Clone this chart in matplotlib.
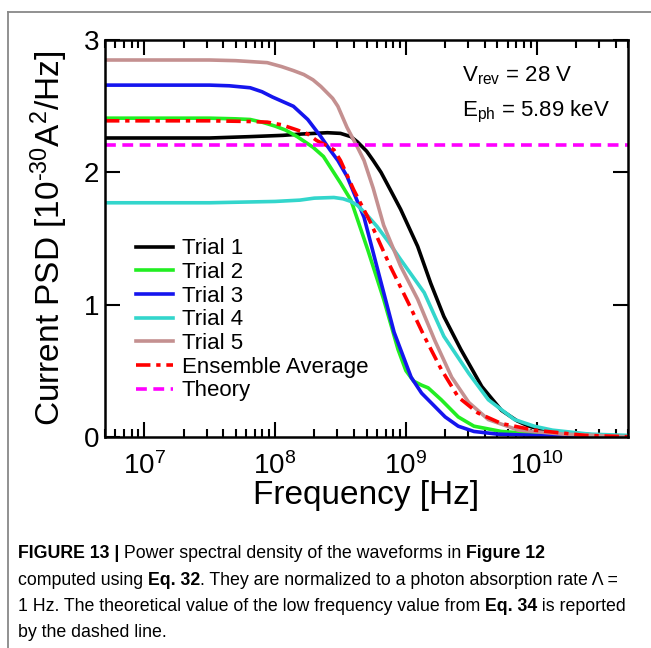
import numpy as np
import matplotlib
matplotlib.use('Agg')
import matplotlib.pyplot as plt
from matplotlib.ticker import LogLocator, NullFormatter, FixedLocator
from matplotlib.lines import Line2D

plt.rcParams['font.family'] = ['Liberation Sans', 'DejaVu Sans']
plt.rcParams['mathtext.fontset'] = 'custom'
plt.rcParams['mathtext.rm'] = 'Liberation Sans'
plt.rcParams['mathtext.it'] = 'Liberation Sans'
plt.rcParams['mathtext.default'] = 'regular'

# log10(frequency) / PSD values
t1_logf = [6.7, 7.5, 7.8, 8.06, 8.2, 8.4, 8.5, 8.58, 8.63, 8.7, 8.75, 8.81, 8.88, 8.96, 9.09, 9.19, 9.29, 9.42, 9.58, 9.73, 9.85, 9.94, 10.05, 10.25, 10.45, 10.7]
t1_psd = [2.26, 2.26, 2.27, 2.28, 2.29, 2.30, 2.295, 2.27, 2.23, 2.16, 2.09, 2.0, 1.87, 1.72, 1.44, 1.16, 0.91, 0.66, 0.38, 0.20, 0.12, 0.08, 0.05, 0.03, 0.012, 0.0]

t2_logf = [6.7, 7.5, 7.7, 7.81, 7.9, 8.0, 8.08, 8.17, 8.29, 8.37, 8.5, 8.58, 8.71, 8.83, 8.94, 9.0, 9.06, 9.12, 9.17, 9.27, 9.4, 9.52, 9.73, 10.0, 10.35, 10.7]
t2_psd = [2.41, 2.41, 2.405, 2.40, 2.38, 2.35, 2.32, 2.27, 2.19, 2.12, 1.92, 1.79, 1.41, 1.04, 0.66, 0.50, 0.42, 0.39, 0.37, 0.28, 0.15, 0.08, 0.04, 0.02, 0.01, 0.0]

t3_logf = [6.7, 7.5, 7.65, 7.81, 7.9, 7.98, 8.14, 8.25, 8.35, 8.42, 8.48, 8.55, 8.68, 8.78, 8.91, 9.04, 9.12, 9.22, 9.3, 9.4, 9.52, 9.7, 10.0, 10.7]
t3_psd = [2.66, 2.66, 2.655, 2.64, 2.61, 2.57, 2.50, 2.40, 2.27, 2.17, 2.09, 1.97, 1.66, 1.28, 0.79, 0.45, 0.33, 0.23, 0.15, 0.08, 0.04, 0.02, 0.01, 0.0]

t4_logf = [6.7, 7.5, 8.0, 8.19, 8.3, 8.45, 8.52, 8.58, 8.63, 8.7, 8.78, 8.87, 8.96, 9.14, 9.29, 9.48, 9.63, 9.83, 9.98, 10.12, 10.4, 10.7]
t4_psd = [1.77, 1.77, 1.78, 1.79, 1.805, 1.81, 1.80, 1.78, 1.75, 1.68, 1.59, 1.47, 1.34, 1.09, 0.76, 0.48, 0.28, 0.13, 0.08, 0.05, 0.02, 0.01]

t5_logf = [6.7, 7.5, 7.7, 7.94, 8.05, 8.14, 8.22, 8.29, 8.35, 8.4, 8.44, 8.48, 8.55, 8.63, 8.68, 8.75, 8.83, 8.96, 9.09, 9.22, 9.35, 9.48, 9.63, 9.86, 10.2, 10.7]
t5_psd = [2.85, 2.85, 2.845, 2.83, 2.80, 2.77, 2.74, 2.70, 2.65, 2.60, 2.56, 2.50, 2.34, 2.19, 2.09, 1.88, 1.60, 1.29, 1.04, 0.73, 0.45, 0.26, 0.13, 0.05, 0.02, 0.0]

avg_logf = [6.7, 7.5, 7.8, 7.94, 8.05, 8.17, 8.25, 8.32, 8.38, 8.45, 8.5, 8.6, 8.73, 8.88, 9.02, 9.14, 9.27, 9.4, 9.55, 9.73, 9.98, 10.37, 10.7]
avg_psd = [2.39, 2.39, 2.385, 2.38, 2.36, 2.32, 2.29, 2.24, 2.21, 2.17, 2.09, 1.87, 1.62, 1.29, 1.01, 0.76, 0.51, 0.30, 0.18, 0.10, 0.05, 0.01, 0.0]

theory_psd = 2.21

series = [
    ('Trial 1', t1_logf, t1_psd, 'black'),
    ('Trial 2', t2_logf, t2_psd, '#22ee22'),
    ('Trial 3', t3_logf, t3_psd, '#1515ee'),
    ('Trial 4', t4_logf, t4_psd, '#33d6cc'),
    ('Trial 5', t5_logf, t5_psd, '#c49090'),
]

fig = plt.figure(figsize=(6.51, 6.48), dpi=100)
ax = fig.add_axes([0.161, 0.326, 0.804, 0.612])

for name, lf, p, c in series:
    ax.plot(10 ** np.array(lf), p, color=c, lw=2.6, label=name)
ax.plot(10 ** np.array(avg_logf), avg_psd, color='red', lw=2.6,
        linestyle=(0, (4, 1.6, 1.2, 1.6)), label='Ensemble Average')
ax.axhline(theory_psd, color='#ff00ff', lw=2.6, linestyle=(0, (3, 1.8)), label='Theory')

ax.set_xscale('log')
ax.set_xlim(5e6, 5e10)
ax.set_ylim(0, 3)
ax.xaxis.set_major_locator(LogLocator(base=10, numticks=10))
ax.xaxis.set_minor_locator(LogLocator(base=10, subs=np.arange(2, 10), numticks=20))
ax.xaxis.set_minor_formatter(NullFormatter())
ax.yaxis.set_major_locator(FixedLocator([0, 1, 2, 3]))
ax.yaxis.set_minor_locator(FixedLocator([]))

ax.tick_params(which='both', direction='in', top=True, right=True, width=1.5)
ax.tick_params(which='major', length=11, labelsize=20)
ax.tick_params(which='minor', length=6)
ax.tick_params(axis='x', pad=11)
ax.tick_params(axis='y', pad=4)
for s in ax.spines.values():
    s.set_linewidth(1.8)

ax.set_xlabel('Frequency [Hz]', fontsize=24, labelpad=0)
ax.set_ylabel('Current PSD [10$^{\u201030}$A$^{2}$/Hz]', fontsize=24, labelpad=10)

ax.text(0.683, 0.91, 'V$_{rev}$ = 28 V', transform=ax.transAxes, fontsize=16, va='center')
ax.text(0.683, 0.82, 'E$_{ph}$ = 5.89 keV', transform=ax.transAxes, fontsize=16, va='center')

ax.legend(loc='upper left', bbox_to_anchor=(0.06, 0.5), frameon=False, fontsize=16,
          handlelength=1.65, handletextpad=0.4, labelspacing=0.12, borderpad=0, borderaxespad=0)

# frame around the figure panel
fig.add_artist(Line2D([8 / 651, 1], [1 - 12 / 648, 1 - 12 / 648], color='#888888', lw=1.3))
fig.add_artist(Line2D([8 / 651, 8 / 651], [0, 1 - 12 / 648], color='#888888', lw=1.3))

# caption, built from regular and bold pieces
cap_font = ['Liberation Sans Narrow', 'Liberation Sans', 'DejaVu Sans']
cap_size = 12.8
caption = [
    [('FIGURE 13 |', 'bold'), (' Power spectral density of the waveforms in ', 'normal'), ('Figure 12', 'bold')],
    [('computed using ', 'normal'), ('Eq. 32', 'bold'), ('. They are normalized to a photon absorption rate \u039b =', 'normal')],
    [('1 Hz. The theoretical value of the low frequency value from ', 'normal'), ('Eq. 34', 'bold'), (' is reported', 'normal')],
    [('by the dashed line.', 'normal')],
]
y0 = 554
for i, parts in enumerate(caption):
    y = 1 - (y0 + i * 26.3) / 648
    last = None
    for txt, wt in parts:
        if last is None:
            last = fig.text(18 / 651, y, txt, fontsize=cap_size, fontweight=wt, family=cap_font,
                            va='center', ha='left')
        else:
            last = ax.annotate(txt, xy=(1, 0), xycoords=last, fontsize=cap_size, fontweight=wt,
                               family=cap_font, va='bottom', ha='left', annotation_clip=False)

fig.savefig('out.png', dpi=100)
